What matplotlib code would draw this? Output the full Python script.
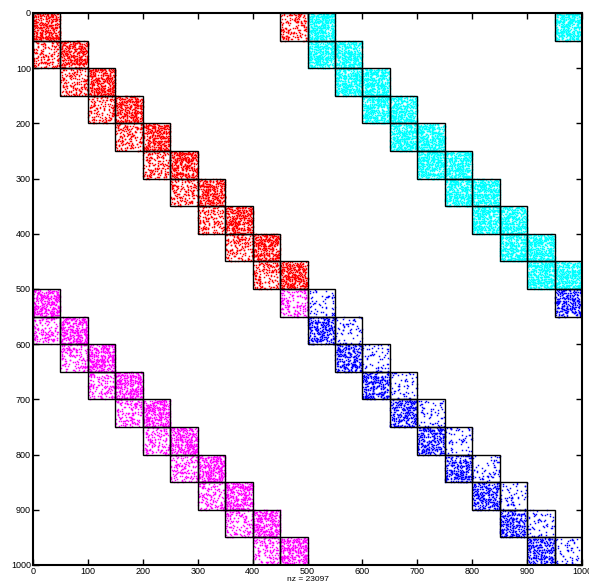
import numpy as np
import matplotlib
matplotlib.use("Agg")
import matplotlib.pyplot as plt
from matplotlib.patches import Rectangle

# matrix layout: 1000 x 1000, made of 50 x 50 blocks in four 500 x 500 quadrants
n = 1000
blk = 50

# block indices inside one quadrant (diagonal + subdiagonal with wrap-around corner block)
diag_idx = [0, 1, 2, 3, 4, 5, 6, 7, 8, 9]
sub_rows = [1, 2, 3, 4, 5, 6, 7, 8, 9, 0]
sub_cols = [0, 1, 2, 3, 4, 5, 6, 7, 8, 9]

# quadrants: row offset, col offset, colour
quad_row0 = [0, 0, 500, 500]
quad_col0 = [0, 500, 0, 500]
quad_colors = ["#ff0000", "#00ffff", "#ff00ff", "#0000ff"]

# nonzeros per block (estimated from dot density), diagonal / subdiagonal
red_diag = [370] * 10
red_sub = [170] * 10
cyan_diag = [470] * 10
cyan_sub = [470] * 10
magenta_diag = [340] * 10
magenta_sub = [150] * 10
blue_diag = [60, 60, 60, 60, 60, 60, 60, 59, 59, 59]
blue_sub = [280] * 10

diag_counts = [red_diag, cyan_diag, magenta_diag, blue_diag]
sub_counts = [red_sub, cyan_sub, magenta_sub, blue_sub]

# positions of nonzeros inside a block can't be read off the picture,
# so a fixed seed scatters them
rng = np.random.default_rng(7)


def block_points(r0, c0, count):
    cells = rng.choice(blk * blk, size=count, replace=False)
    rows = r0 + cells // blk + 1
    cols = c0 + cells % blk + 1
    return rows, cols


fig = plt.figure(figsize=(5.89, 5.84), dpi=100)
ax = fig.add_axes([33 / 589, 19 / 584, 549 / 589, 552 / 584])

nz = 0
for q in range(4):
    xs, ys = [], []
    blocks = []
    for k in range(10):
        r0 = quad_row0[q] + diag_idx[k] * blk
        c0 = quad_col0[q] + diag_idx[k] * blk
        rr, cc = block_points(r0, c0, diag_counts[q][k])
        ys.append(rr); xs.append(cc)
        blocks.append((r0, c0))
        r0 = quad_row0[q] + sub_rows[k] * blk
        c0 = quad_col0[q] + sub_cols[k] * blk
        rr, cc = block_points(r0, c0, sub_counts[q][k])
        ys.append(rr); xs.append(cc)
        blocks.append((r0, c0))
    xs = np.concatenate(xs)
    ys = np.concatenate(ys)
    nz += len(xs)
    ax.plot(xs, ys, linestyle="none", marker="s", markersize=1.05,
            markeredgewidth=0, color=quad_colors[q])
    for r0, c0 in blocks:
        ax.add_patch(Rectangle((c0, r0), blk, blk, fill=False,
                               edgecolor="black", linewidth=1.0, zorder=3))

ax.set_xlim(0, n)
ax.set_ylim(n, 0)
ticks = np.arange(0, 1001, 100)
ax.set_xticks(ticks)
ax.set_yticks(ticks)
ax.tick_params(direction="in", length=4, width=1, labelsize=6.5,
               top=True, right=True, pad=1.5)
for s in ax.spines.values():
    s.set_linewidth(1.5)
for lab in ax.get_xticklabels() + ax.get_yticklabels():
    lab.set_family("Liberation Sans")
ax.set_xlabel(f"nz = {nz}", fontsize=6, family="Liberation Sans", labelpad=0)

fig.savefig("out.png", dpi=100)
